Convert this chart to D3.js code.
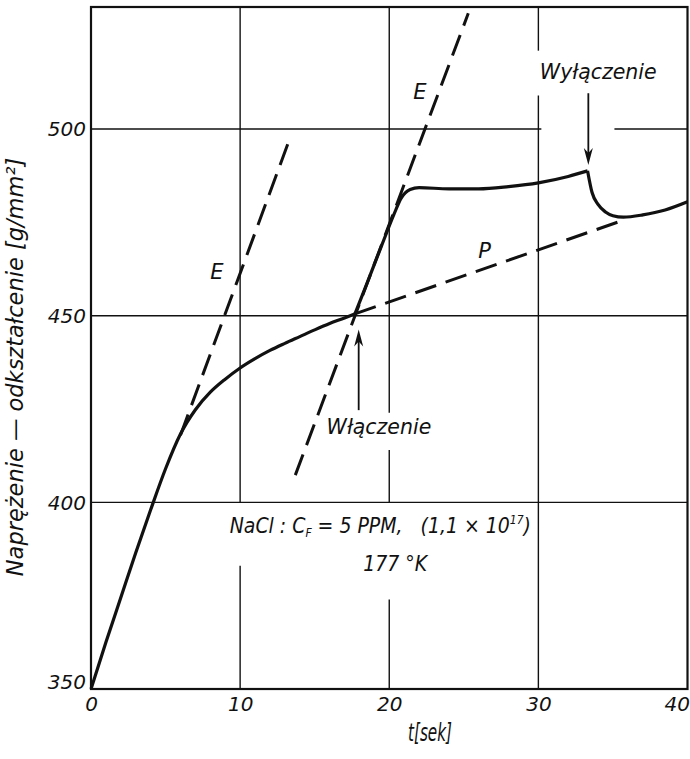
<!DOCTYPE html>
<html>
<head>
<meta charset="utf-8">
<script src="https://cdn.jsdelivr.net/npm/d3@7"></script>
<style>
  body { margin: 0; background: #fff; }
  svg text { font-family: "DejaVu Sans", sans-serif; font-style: italic; fill: #111; }
</style>
</head>
<body>
<div id="chart"></div>
<script>
const xTicks = [0, 10, 20, 30, 40];
const yTicks = [350, 400, 450, 500];

// naprężenie w czasie: t [sek], [g/mm2]
const stressCurve = [
  [0, 350], [1, 362.5], [2, 374.5], [3, 386.5], [4, 398], [5, 409], [6, 418.3],
  [7, 424.8], [8, 429.5], [9, 433], [10, 436], [11, 438.5], [12, 440.7],
  [13, 442.6], [14, 444.4], [15, 446.2], [16, 447.9], [17, 449.4], [17.7, 450.5],
  [18.5, 458.6], [19.5, 468.9], [20.3, 477], [20.8, 481.5], [21.4, 483.8],
  [22, 484.3], [24, 484], [26, 484], [28, 484.6], [30, 485.6], [32, 487.3],
  [33.3, 488.8], [33.6, 483], [34, 479.8], [34.5, 477.8], [35, 476.8],
  [35.7, 476.4], [37, 477], [38.5, 478.3], [40, 480.5]
];
const kinkTimes = [17.7, 33.3];

const elasticLine1 = [[6.0, 418.0], [13.4, 498.2]];
const elasticLine2 = [[13.7, 407.3], [25.3, 531.0]];
const plasticLine = [[17.7, 450.5], [35.7, 475.6]];

// przerwy w siatce pod napisami
const xGridGaps = { 10: [[383, 400]], 20: [[374, 400], [414, 424]], 30: [[509, 521]] };
const yGridGaps = { 400: [], 450: [], 500: [[30.2, 35.1]] };

const margin = { top: 7, right: 2.5, bottom: 70, left: 91 };
const width = 690 - margin.left - margin.right;
const height = 759 - margin.top - margin.bottom;

const svg = d3.select("#chart").append("svg")
  .attr("width", 690).attr("height", 759);
const g = svg.append("g")
  .attr("transform", "translate(" + margin.left + "," + margin.top + ")");

const x = d3.scaleLinear().domain([0, 40]).range([0, width]);
const y = d3.scaleLinear().domain([350, 532.7]).range([height, 0]);

function splitRange(lo, hi, gaps) {
  const parts = [];
  let start = lo;
  gaps.slice().sort((a, b) => a[0] - b[0]).forEach(gp => {
    parts.push([start, gp[0]]);
    start = gp[1];
  });
  parts.push([start, hi]);
  return parts;
}

// siatka
[10, 20, 30].forEach(t => {
  splitRange(350, 532.7, xGridGaps[t] || []).forEach(p => {
    g.append("line")
      .attr("x1", x(t)).attr("x2", x(t))
      .attr("y1", y(p[0])).attr("y2", y(p[1]))
      .attr("stroke", "#111").attr("stroke-width", 1.4);
  });
});
[400, 450, 500].forEach(v => {
  splitRange(0, 40, yGridGaps[v] || []).forEach(p => {
    g.append("line")
      .attr("x1", x(p[0])).attr("x2", x(p[1]))
      .attr("y1", y(v)).attr("y2", y(v))
      .attr("stroke", "#111").attr("stroke-width", 1.4);
  });
});

g.append("rect")
  .attr("x", 0).attr("y", 0)
  .attr("width", width).attr("height", height)
  .attr("fill", "none").attr("stroke", "#111").attr("stroke-width", 2.2);

// osie
const xAxis = g.append("g")
  .attr("transform", "translate(0," + height + ")")
  .call(d3.axisBottom(x).tickValues(xTicks).tickSize(0).tickPadding(8));
xAxis.select(".domain").remove();
xAxis.selectAll("text")
  .style("font-size", "20px").attr("fill", "#111")
  .attr("text-anchor", d => d === 40 ? "end" : "middle")
  .attr("dx", d => d === 40 ? 2 : 0);

const yAxis = g.append("g")
  .call(d3.axisLeft(y).tickValues(yTicks).tickSize(0).tickPadding(5));
yAxis.select(".domain").remove();
yAxis.selectAll("text")
  .style("font-size", "20px").attr("fill", "#111")
  .attr("dy", d => d === 350 ? "-0.02em" : "0.34em");

// krzywa
const line = d3.line().x(d => x(d[0])).y(d => y(d[1])).curve(d3.curveMonotoneX);
const bounds = [0].concat(kinkTimes, [40]);
for (let i = 0; i < bounds.length - 1; i++) {
  const seg = stressCurve.filter(d => d[0] >= bounds[i] && d[0] <= bounds[i + 1]);
  g.append("path").datum(seg)
    .attr("d", line)
    .attr("fill", "none").attr("stroke", "#111")
    .attr("stroke-width", 3.2).attr("stroke-linejoin", "miter");
}

const straight = d3.line().x(d => x(d[0])).y(d => y(d[1]));
[elasticLine1, elasticLine2, plasticLine].forEach(l => {
  g.append("path").datum(l)
    .attr("d", straight)
    .attr("fill", "none").attr("stroke", "#111")
    .attr("stroke-width", 3).attr("stroke-dasharray", "22,10");
});

// strzałki
function arrow(t, yFrom, yTo) {
  const x0 = x(t), ya = y(yFrom), yb = y(yTo);
  const dir = yb > ya ? 1 : -1;
  g.append("line")
    .attr("x1", x0).attr("x2", x0)
    .attr("y1", ya).attr("y2", yb - dir * 10)
    .attr("stroke", "#111").attr("stroke-width", 1.8);
  g.append("path")
    .attr("d", "M" + x0 + "," + yb + "L" + (x0 - 4.5) + "," + (yb - dir * 17) +
      "L" + x0 + "," + (yb - dir * 12) + "L" + (x0 + 4.5) + "," + (yb - dir * 17) + "Z")
    .attr("fill", "#111");
}
arrow(17.95, 424.7, 446.3);
arrow(33.35, 509.6, 490.4);

// napisy
function label(t, v, txt, size, anchor) {
  return g.append("text")
    .attr("x", x(t)).attr("y", y(v))
    .attr("text-anchor", anchor || "start")
    .style("font-size", size + "px")
    .text(txt);
}
label(8.45, 459.8, "E", 21, "middle");
label(22.06, 508, "E", 21, "middle");
label(26.4, 465.4, "P", 21, "middle");
label(15.8, 418.2, "Włączenie", 20.5);
label(30.1, 513.3, "Wyłączenie", 20.5);

const nacl = g.append("text")
  .attr("x", x(9.3)).attr("y", y(391.8))
  .style("font-family", "'DejaVu Sans Condensed', 'DejaVu Sans', sans-serif")
  .style("font-size", "21px");
nacl.append("tspan").text("NaCl : C");
nacl.append("tspan").attr("dy", 4).style("font-size", "12px").text("F");
nacl.append("tspan").attr("dy", -4).text(" = 5 PPM,\u00a0\u00a0 (1,1 × 10");
nacl.append("tspan").attr("dy", -9).style("font-size", "12px").text("17");
nacl.append("tspan").attr("dy", 9).text(")");

label(18.26, 381.5, "177 °K", 21)
  .style("font-family", "'DejaVu Sans Condensed', 'DejaVu Sans', sans-serif");

// opisy osi
svg.append("text")
  .attr("x", 408).attr("y", 741)
  .attr("textLength", 44).attr("lengthAdjust", "spacingAndGlyphs")
  .style("font-size", "25px")
  .text("t[sek]");

svg.append("text")
  .attr("transform", "translate(23," + 367 + ") rotate(-90)")
  .attr("text-anchor", "middle")
  .style("font-size", "22.5px")
  .text("Naprężenie — odkształcenie [g/mm²]");
</script>
</body>
</html>
